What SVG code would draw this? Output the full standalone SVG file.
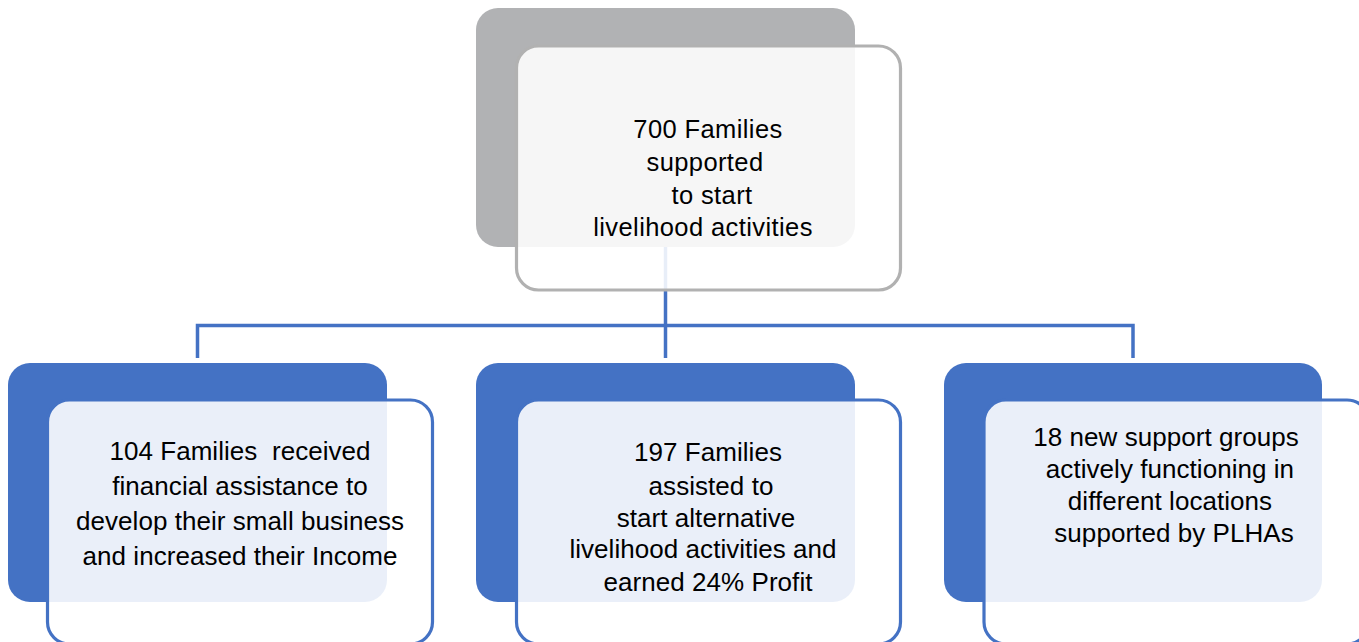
<svg xmlns="http://www.w3.org/2000/svg" width="1359" height="642" viewBox="0 0 1359 642">
<style>
.back-g{fill:#b1b2b4}
.front-g{fill:#ffffff;fill-opacity:0.88;stroke:#b1b1b1;stroke-width:3.2}
.back-b{fill:#4472c4}
.front-b{fill:#ffffff;fill-opacity:0.89;stroke:#4472c4;stroke-width:3.2}
.conn{fill:none;stroke:#4472c4;stroke-width:3.5}
text{font-family:"Liberation Sans",Arial,sans-serif;fill:#000;text-anchor:middle;white-space:pre}
.t1{font-size:25.5px;letter-spacing:0.4px}
.t2{font-size:26px;letter-spacing:0.05px}
</style>
<rect width="1359" height="642" fill="#fff"/>
<g id="connectors">
<path class="conn" d="M665.5,247 V358"/>
<path class="conn" d="M197.5,358 V325.5 H1133 V358"/>
</g>
<g id="node-top">
<rect class="back-g" x="476" y="8" width="379" height="239" rx="22"/>
<rect class="front-g" x="516.5" y="46" width="384" height="244" rx="22"/>
<text class="t1" x="708" y="138">700 Families</text>
<text class="t1" x="705" y="171">supported</text>
<text class="t1" x="712" y="204">to start</text>
<text class="t1" x="703" y="236">livelihood activities</text>
</g>
<g id="node-left">
<rect class="back-b" x="8" y="363" width="379" height="239" rx="22"/>
<rect class="front-b" x="47.5" y="400" width="385" height="244" rx="22"/>
<text class="t2" x="240" y="460" xml:space="preserve">104 Families  received</text>
<text class="t2" x="240" y="495">financial assistance to</text>
<text class="t2" x="240" y="530">develop their small business</text>
<text class="t2" x="240" y="565">and increased their Income</text>
</g>
<g id="node-middle">
<rect class="back-b" x="476" y="363" width="379" height="239" rx="22"/>
<rect class="front-b" x="516.5" y="400" width="384" height="244" rx="22"/>
<text class="t2" x="708" y="461">197 Families</text>
<text class="t2" x="711" y="495">assisted to</text>
<text class="t2" x="706" y="527">start alternative</text>
<text class="t2" x="703" y="558">livelihood activities and</text>
<text class="t2" x="708" y="591">earned 24% Profit</text>
</g>
<g id="node-right">
<rect class="back-b" x="944" y="363" width="378" height="239" rx="22"/>
<rect class="front-b" x="984" y="400" width="385" height="244" rx="22"/>
<text class="t2" x="1166" y="446">18 new support groups</text>
<text class="t2" x="1170" y="478">actively functioning in</text>
<text class="t2" x="1170" y="510">different locations</text>
<text class="t2" x="1174" y="542">supported by PLHAs</text>
</g>
</svg>
